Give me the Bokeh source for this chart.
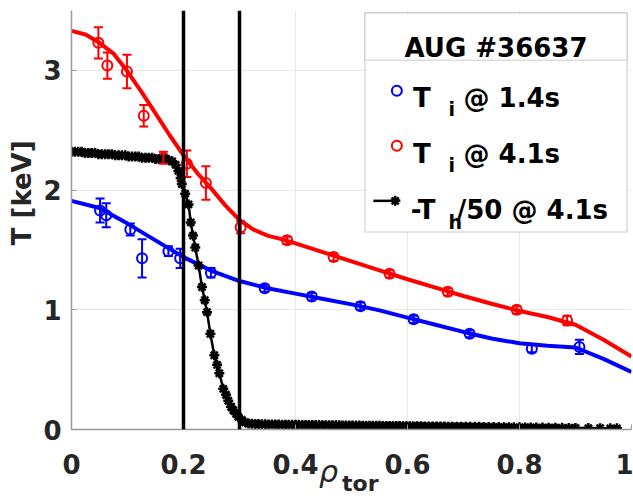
from bokeh.plotting import figure
from bokeh.models import (ColumnDataSource, Whisker, TeeHead, Span, BoxAnnotation,
                          Label, FixedTicker, Div)
from bokeh.layouts import column
from bokeh.embed import file_html
from bokeh.resources import INLINE

# ---------------- data ----------------
x_ticks = [0, 0.2, 0.4, 0.6, 0.8, 1.0]
x_tick_labels = ["0", "0.2", "0.4", "0.6", "0.8", "1"]
y_ticks = [0, 1, 2, 3]
y_tick_labels = ["0", "1", "2", "3"]

# Ti @ 4.1s (red) measured points
ti41_rho = [0.048, 0.064, 0.099, 0.129, 0.164, 0.206, 0.240, 0.302, 0.385, 0.468, 0.568, 0.672, 0.795, 0.885]
ti41_T   = [3.23, 3.04, 2.99, 2.62, 2.27, 2.22, 2.06, 1.69, 1.58, 1.44, 1.30, 1.15, 1.00, 0.91]
ti41_err = [0.13, 0.11, 0.14, 0.09, 0.05, 0.11, 0.14, 0.05, 0.03, 0.03, 0.03, 0.03, 0.03, 0.04]

# Ti @ 1.4s (blue) measured points
ti14_rho = [0.051, 0.062, 0.105, 0.126, 0.173, 0.194, 0.249, 0.345, 0.429, 0.516, 0.611, 0.711, 0.822, 0.907]
ti14_T   = [1.83, 1.79, 1.67, 1.43, 1.49, 1.43, 1.31, 1.18, 1.11, 1.03, 0.92, 0.80, 0.675, 0.69]
ti14_err = [0.10, 0.10, 0.05, 0.16, 0.04, 0.08, 0.04, 0.03, 0.03, 0.03, 0.03, 0.03, 0.03, 0.06]

# fitted profiles
fit41_rho = [0, 0.025, 0.05, 0.075, 0.1, 0.125, 0.15, 0.175, 0.2, 0.225, 0.25, 0.275, 0.3, 0.325, 0.35,
             0.375, 0.4, 0.45, 0.5, 0.55, 0.6, 0.65, 0.7, 0.75, 0.8, 0.85, 0.9, 0.95, 1.0]
fit41_T   = [3.33, 3.30, 3.23, 3.14, 2.99, 2.82, 2.64, 2.46, 2.29, 2.14, 2.01, 1.87, 1.75, 1.67, 1.62,
             1.59, 1.555, 1.48, 1.405, 1.33, 1.255, 1.185, 1.115, 1.05, 0.99, 0.94, 0.875, 0.75, 0.61]
fit14_rho = [0, 0.05, 0.1, 0.15, 0.2, 0.25, 0.3, 0.35, 0.4, 0.45, 0.5, 0.55, 0.6, 0.65, 0.7,
             0.75, 0.8, 0.85, 0.9, 0.95, 1.0]
fit14_T   = [1.91, 1.85, 1.72, 1.58, 1.44, 1.325, 1.24, 1.18, 1.135, 1.09, 1.045, 0.995, 0.935, 0.875, 0.815,
             0.76, 0.72, 0.70, 0.685, 0.59, 0.48]

# -T_h/50 @ 4.1s (black)
th_rho = [0.000, 0.006, 0.012, 0.018, 0.024, 0.030, 0.036, 0.042, 0.048, 0.054, 0.060, 0.066, 0.072, 0.078,
          0.084, 0.090, 0.096, 0.102, 0.108, 0.114, 0.120, 0.126, 0.132, 0.138, 0.144, 0.150, 0.156, 0.162,
          0.168, 0.174, 0.180,
          0.186, 0.191, 0.195, 0.197, 0.203, 0.209, 0.213, 0.217, 0.221, 0.227, 0.233, 0.238, 0.242, 0.248,
          0.255, 0.260, 0.264, 0.271, 0.276, 0.280, 0.285, 0.289, 0.294, 0.298, 0.304, 0.310,
          0.316, 0.322, 0.328, 0.334, 0.340, 0.346, 0.352, 0.358, 0.364, 0.370,
          0.376, 0.382, 0.388, 0.394, 0.400, 0.406, 0.412, 0.418, 0.424, 0.430,
          0.436, 0.442, 0.448, 0.454, 0.460, 0.466, 0.472, 0.478, 0.484, 0.490,
          0.496, 0.502, 0.508, 0.514, 0.520, 0.526, 0.532, 0.538, 0.544, 0.550,
          0.556, 0.562, 0.568, 0.574, 0.580, 0.586, 0.592, 0.598, 0.604, 0.610,
          0.617, 0.624, 0.631, 0.638, 0.645, 0.652, 0.659, 0.666, 0.673, 0.680,
          0.688, 0.696, 0.704, 0.712, 0.720, 0.728, 0.736,
          0.745, 0.754, 0.763, 0.772, 0.781, 0.790,
          0.800, 0.810, 0.820, 0.830,
          0.841, 0.852,
          0.864, 0.876, 0.888, 0.900,
          0.923, 0.944, 0.962, 0.974]
th_T = [2.32, 2.32, 2.32, 2.32, 2.31, 2.31, 2.31, 2.31, 2.30, 2.30, 2.30, 2.30, 2.30, 2.29,
        2.29, 2.29, 2.29, 2.28, 2.28, 2.28, 2.28, 2.27, 2.27, 2.27, 2.27, 2.26, 2.26, 2.26,
        2.26, 2.25, 2.24,
        2.21, 2.16, 2.10, 2.05, 1.97, 1.88, 1.73, 1.62, 1.52, 1.37, 1.19, 1.08, 0.98, 0.80,
        0.62, 0.54, 0.47, 0.34, 0.29, 0.24, 0.19, 0.16, 0.13, 0.105, 0.08, 0.06,
        0.050, 0.048, 0.046, 0.045, 0.044, 0.043, 0.042, 0.042, 0.041, 0.041,
        0.040, 0.040, 0.040, 0.039, 0.039, 0.039, 0.038, 0.038, 0.038, 0.037,
        0.037, 0.037, 0.036, 0.036, 0.036, 0.035, 0.035, 0.035, 0.034, 0.034,
        0.034, 0.033, 0.033, 0.033, 0.032, 0.032, 0.032, 0.031, 0.031, 0.031,
        0.030, 0.030, 0.030, 0.029, 0.029, 0.029, 0.028, 0.028, 0.028, 0.027,
        0.027, 0.027, 0.026, 0.026, 0.026, 0.025, 0.025, 0.025, 0.024, 0.024,
        0.024, 0.023, 0.023, 0.022, 0.022, 0.022, 0.021,
        0.021, 0.020, 0.020, 0.019, 0.019, 0.018,
        0.018, 0.017, 0.017, 0.016,
        0.016, 0.015,
        0.015, 0.014, 0.013, 0.013,
        0.012, 0.011, 0.010, 0.010]

vlines_rho = [0.2, 0.3]

legend_title = "AUG #36637"
legend_rows = [("T", "i", " @ 1.4s"), ("T", "i", " @ 4.1s"), ("-T", "h", "/50 @ 4.1s")]
x_label_main, x_label_sub = "ρ", "tor"
y_label = "T [keV]"

# ---------------- styles ----------------
BLUE = "#0000ff"
RED = "#ff0000"
FONT = "DejaVu Sans"
TXT = "#262626"

p = figure(width=633, height=501, x_range=(0, 1), y_range=(0, 3.5),
           output_backend="svg", toolbar_location=None,
           min_border_left=71, min_border_right=2, min_border_top=10, min_border_bottom=72)
p.outline_line_color = None
p.background_fill_color = "white"
p.border_fill_color = "white"

for ax in (p.xaxis[0], p.yaxis[0]):
    ax.axis_line_color = "#9a9a9a"
    ax.axis_line_width = 1.5
    ax.major_tick_in = 5
    ax.major_tick_out = 0
    ax.minor_tick_line_color = None
    ax.major_tick_line_color = "#9a9a9a"
    ax.major_label_text_font = FONT
    ax.major_label_text_font_style = "bold"
    ax.major_label_text_font_size = "26px"
    ax.major_label_text_color = TXT

p.xaxis.ticker = FixedTicker(ticks=x_ticks)
p.xaxis.major_label_overrides = {t: l for t, l in zip(x_ticks, x_tick_labels)}
p.xaxis.major_label_standoff = 24
p.yaxis.ticker = FixedTicker(ticks=y_ticks)
p.yaxis.major_label_overrides = {t: l for t, l in zip(y_ticks, y_tick_labels)}
p.yaxis.major_label_standoff = 10
# leading no-break spaces shift the label up along the axis, as in the original
p.yaxis.axis_label = "\u00a0" * 6 + y_label
p.yaxis.axis_label_text_font = FONT
p.yaxis.axis_label_text_font_style = "bold"
p.yaxis.axis_label_text_font_size = "26px"
p.yaxis.axis_label_text_color = TXT
p.yaxis.axis_label_standoff = 3

p.xgrid.ticker = FixedTicker(ticks=x_ticks)
p.ygrid.ticker = FixedTicker(ticks=y_ticks)
p.xgrid.grid_line_color = "#e8e8e8"
p.ygrid.grid_line_color = "#e8e8e8"

# ---------------- measured points with error bars ----------------
for rho, T, err, col in ((ti14_rho, ti14_T, ti14_err, BLUE), (ti41_rho, ti41_T, ti41_err, RED)):
    src = ColumnDataSource(dict(x=rho, y=T,
                                lo=[a - b for a, b in zip(T, err)],
                                hi=[a + b for a, b in zip(T, err)]))
    w = Whisker(base="x", lower="lo", upper="hi", source=src, line_color=col, line_width=2,
                upper_head=TeeHead(size=9, line_color=col, line_width=2),
                lower_head=TeeHead(size=9, line_color=col, line_width=2), level="glyph")
    p.add_layout(w)
    p.scatter("x", "y", source=src, marker="circle", size=10, fill_color=None,
              line_color=col, line_width=2)

# fits
p.line(fit14_rho, fit14_T, line_color=BLUE, line_width=4)
p.line(fit41_rho, fit41_T, line_color=RED, line_width=4)

# -T_h/50
p.line(th_rho, th_T, line_color="black", line_width=2.5)
p.scatter(th_rho, th_T, marker="asterisk", size=10, line_color="black", line_width=2.5)

# vertical lines
for v in vlines_rho:
    p.add_layout(Span(location=v, dimension="height", line_color="black", line_width=3.5))

# ---------------- legend (manual, for subscripts) ----------------
box = BoxAnnotation(left=0.524, right=0.992, bottom=1.65, top=3.48, fill_color="white", fill_alpha=1,
                    line_color="#8c8c8c", line_width=1.5, level="annotation")
p.add_layout(box)
tbox = BoxAnnotation(left=0.524, right=0.992, bottom=3.085, top=3.48, fill_color="white", fill_alpha=1,
                     line_color="#8c8c8c", line_width=1.5, level="annotation")
p.add_layout(tbox)

def lab(x, y, text, size, style="bold", align="left"):
    p.add_layout(Label(x=x, y=y, text=text, text_font=FONT, text_font_size=size,
                       text_font_style=style, text_color="black", text_align=align,
                       text_baseline="alphabetic", level="overlay"))

lab(0.758, 3.19, legend_title, "26px", align="center")

row_base = [2.77, 2.30, 1.83]
row_sub = [2.68, 2.21, 1.73]
row_x = [(0.610, 0.673, 0.700), (0.610, 0.673, 0.700), (0.606, 0.673, 0.688)]
for (main, sub, rest), yb, ys, (x1, x2, x3) in zip(legend_rows, row_base, row_sub, row_x):
    lab(x1, yb, main, "26px")
    lab(x2, ys, sub, "19px")
    lab(x3, yb, rest, "26px")

p.scatter([0.581], [2.83], marker="circle", size=10, fill_color=None, line_color=BLUE,
          line_width=2, level="overlay")
p.scatter([0.581], [2.37], marker="circle", size=10, fill_color=None, line_color=RED,
          line_width=2, level="overlay")
p.line([0.539, 0.587], [1.91, 1.91], line_color="black", line_width=2.5, level="overlay")
p.scatter([0.578], [1.91], marker="asterisk", size=10, line_color="black", line_width=2.5,
          level="overlay")

# ---------------- x axis label rho_tor (HTML, for italic + subscript) ----------------
xlab_html = (
    "<div style=\"font-family:'DejaVu Sans';line-height:1;white-space:nowrap;color:#262626\">"
    "<span style=\"font-style:italic;font-size:30px\">" + x_label_main + "</span>"
    "<span style=\"font-weight:bold;font-size:22px;position:relative;top:9px;margin-left:4px\">"
    + x_label_sub + "</span></div>"
)
xlab = Div(text=xlab_html, width=90, height=40, margin=(-44, 0, 0, 319))

layout = column(p, xlab, spacing=0)

open("out.html", "w").write(file_html(layout, INLINE))
